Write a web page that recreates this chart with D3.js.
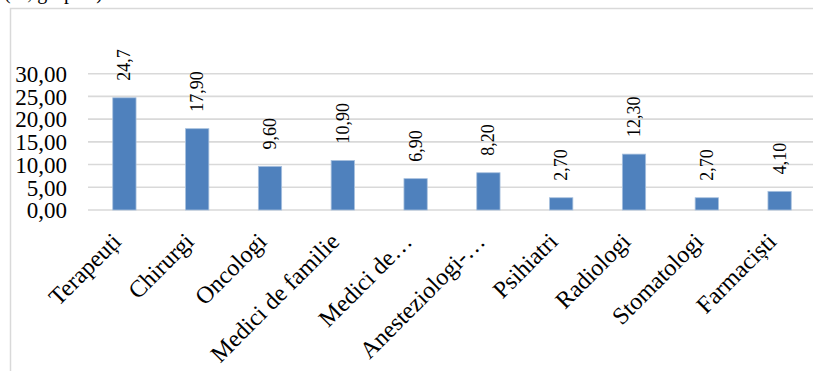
<!DOCTYPE html>
<html>
<head>
<meta charset="utf-8">
<script src="https://cdn.jsdelivr.net/npm/d3@7/dist/d3.min.js"></script>
<style>
  html, body { margin: 0; padding: 0; background: #fff; }
  svg { display: block; }
  text { font-family: "Liberation Serif", "Times New Roman", serif; fill: #000; }
</style>
</head>
<body>
<svg id="chart" width="813" height="371"></svg>
<script>
// Categories (medical specialties), values and their printed labels
const categories = ["Terapeuți", "Chirurgi", "Oncologi", "Medici de familie", "Medici de…",
  "Anesteziologi-…", "Psihiatri", "Radiologi", "Stomatologi", "Farmaciști"];
const values = [24.7, 17.9, 9.6, 10.9, 6.9, 8.2, 2.7, 12.3, 2.7, 4.1];
const valueLabels = ["24,7", "17,90", "9,60", "10,90", "6,90", "8,20", "2,70", "12,30", "2,70", "4,10"];
const yTicks = [0, 5, 10, 15, 20, 25, 30];
const yTickLabels = ["0,00", "5,00", "10,00", "15,00", "20,00", "25,00", "30,00"];

const svg = d3.select("#chart");

// Caption line above the frame (mostly cut off at the top edge)
svg.append("text")
  .attr("x", 4).attr("y", -1)
  .style("font-size", "20px")
  .text("(%, grupuri)");

// Chart frame
svg.append("path")
  .attr("d", "M10.5,380 V8.5 H830")
  .attr("fill", "none")
  .attr("stroke", "#d9d9d9")
  .attr("stroke-width", 1.5);

const x = d3.scaleBand()
  .domain(categories)
  .range([88, 816])
  .paddingInner(0.68)
  .paddingOuter(0.34);

const y = d3.scaleLinear()
  .domain([0, 30])
  .range([210, 73.7]);

// Gridlines
svg.append("g")
  .selectAll("line")
  .data(yTicks)
  .join("line")
  .attr("x1", 88).attr("x2", 816)
  .attr("y1", d => y(d)).attr("y2", d => y(d))
  .attr("stroke", "#d9d9d9")
  .attr("stroke-width", 1.6);

// Y axis tick labels
const yAxis = d3.axisLeft(y)
  .tickValues(yTicks)
  .tickFormat((d, i) => yTickLabels[i])
  .tickSize(0)
  .tickPadding(0);
const ya = svg.append("g").attr("transform", "translate(67,0)").call(yAxis);
ya.select(".domain").remove();
ya.selectAll("text")
  .style("font-family", "\"Liberation Serif\", \"Times New Roman\", serif")
  .style("font-size", "23px")
  .attr("fill", "#000")
  .attr("dy", "0.34em");

// Bars
svg.append("g")
  .selectAll("rect")
  .data(values)
  .join("rect")
  .attr("x", (d, i) => x(categories[i]))
  .attr("y", d => y(d))
  .attr("width", x.bandwidth())
  .attr("height", d => y(0) - y(d))
  .attr("fill", "#4f81bd")
  .attr("stroke", "#a7c0de")
  .attr("stroke-width", 0.8);

// Value labels, rotated vertical above each bar
svg.append("g")
  .selectAll("text")
  .data(values)
  .join("text")
  .attr("transform", (d, i) => {
    const cx = x(categories[i]) + x.bandwidth() / 2 + 6;
    return `translate(${cx},${y(d) - 17}) rotate(-90)`;
  })
  .style("font-size", "18px")
  .attr("text-anchor", "start")
  .text((d, i) => valueLabels[i]);

// Category labels, rotated 45°
svg.append("g")
  .selectAll("text")
  .data(categories)
  .join("text")
  .attr("transform", d => {
    const cx = x(d) + x.bandwidth() / 2 - 2;
    return `translate(${cx},243) rotate(-45)`;
  })
  .style("font-size", "24px")
  .attr("text-anchor", "end")
  .text(d => d);
</script>
</body>
</html>
